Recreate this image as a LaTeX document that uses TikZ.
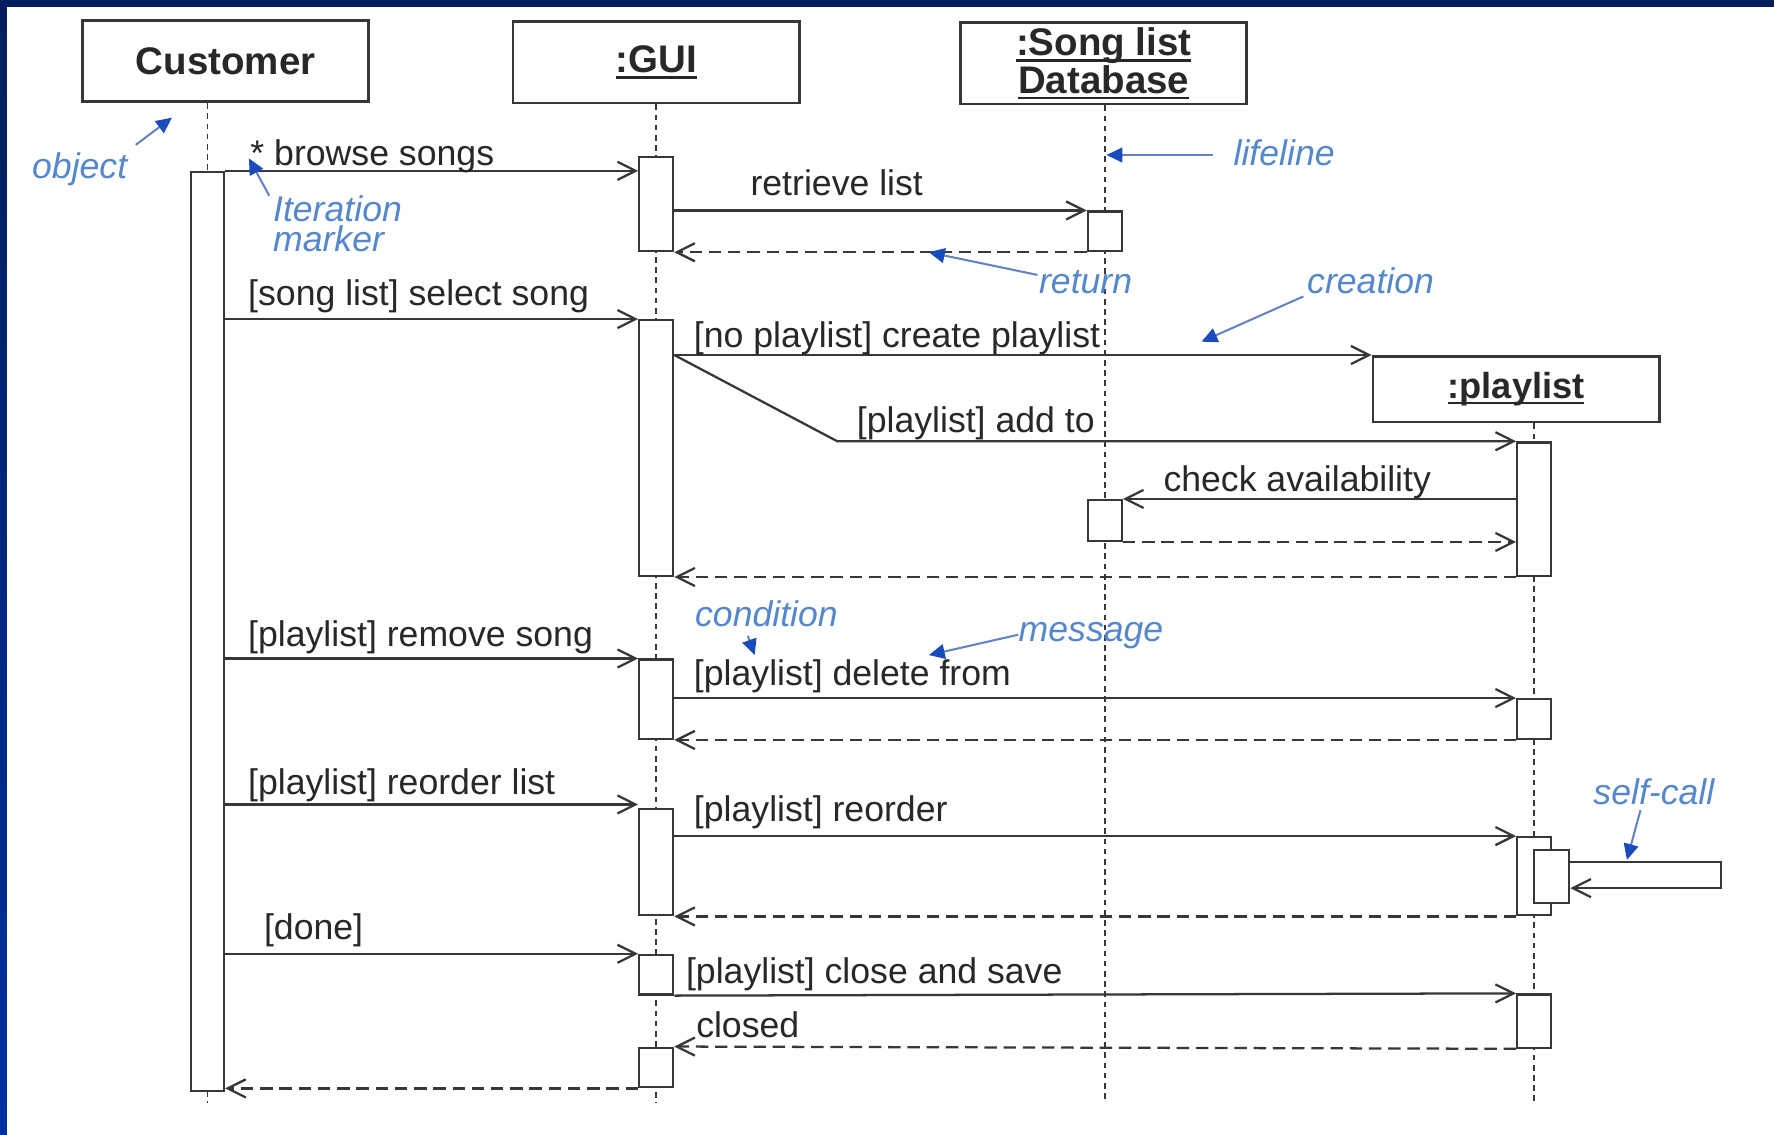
\documentclass[tikz,border=0pt]{standalone}
\usepackage{fontspec}
\setmainfont{Liberation Sans}
\newcommand\myul[1]{\setbox0\hbox{#1}\rlap{\rule[-2.6pt]{\wd0}{1pt}}\box0}
\usetikzlibrary{arrows.meta}
\definecolor{lc}{RGB}{55,55,55}
\definecolor{tc}{RGB}{40,40,40}
\definecolor{annc}{RGB}{85,135,205}
\definecolor{annline}{RGB}{100,130,195}
\definecolor{annhead}{RGB}{25,75,190}
\definecolor{navyband}{RGB}{0,30,92}
\definecolor{blueband}{RGB}{0,48,158}
\begin{document}
\begin{tikzpicture}[x=0.5pt,y=-0.5pt,
  obj/.style={draw=lc, line width=1.2pt, fill=white, minimum width=126.5pt, minimum height=36pt, inner sep=0pt, text=tc, font=\bfseries\fontsize{17}{16.5}\selectfont, align=center},
  act/.style={draw=lc, line width=1pt, fill=white, minimum width=15pt, inner sep=0pt, anchor=north},
  life/.style={draw=lc, line width=0.75pt, dash pattern=on 2.5pt off 2pt},
  msg/.style={draw=lc, line width=1pt, -{Straight Barb[length=8pt,width=8pt]}},
  ret/.style={msg, dash pattern=on 5.5pt off 3pt},
  lbl/.style={inner sep=0pt, anchor=base west, text=tc, font=\fontsize{15.75}{18}\selectfont},
  ann/.style={inner sep=0pt, anchor=base west, text=annc, font=\itshape\fontsize{15.75}{18}\selectfont},
  annarr/.style={draw=annline, line width=0.9pt, -{Triangle[length=7pt,width=6.5pt,color=annhead]}}
]
\useasboundingbox (0,0) rectangle (1568,1003);
\fill[white] (0,0) rectangle (1568,1003);
\shade[top color=navyband, bottom color=blueband] (0,0) rectangle (6,1003);
\fill[navyband] (0,0) rectangle (1568,6);

% objects
\node[obj] (cust) at (199.5,54) {Customer};
\node[obj] (gui) at (580,55) {\myul{:GUI}};
\node[obj] (db) at (975.5,56) {\myul{:Song list}\\\myul{Database}};
\node[obj, minimum height=29pt, font=\bfseries\fontsize{16}{18}\selectfont] (pl) at (1340,344) {\raisebox{-1.5pt}{\myul{:playlist}}};

% lifelines
\coordinate (cbot) at (183.5,975);
\coordinate (gbot) at (580,975);
\coordinate (dbot) at (976.5,975);
\coordinate (pbot) at (1356,975);
\draw[life] (cust.south -| cbot) -- (cbot);
\draw[life] (gui.south -| gbot) -- (gbot);
\draw[life] (db.south -| dbot) -- (dbot);
\draw[life] (pl.south -| pbot) -- (pbot);

% activations
\node[act, minimum height=406pt, minimum width=14.5pt] (cact) at (183.5,151) {};
\node[act, minimum height=41.5pt] (g1) at (580,138) {};
\node[act, minimum height=113pt] (g2) at (580,282) {};
\node[act, minimum height=35pt] (g3) at (580,582) {};
\node[act, minimum height=47pt] (g4) at (580,714) {};
\node[act, minimum height=17.5pt] (g5) at (580,843) {};
\node[act, minimum height=17.5pt] (g6) at (580,925) {};
\node[act, minimum height=17.5pt] (d1) at (976.5,186) {};
\node[act, minimum height=18pt] (d2) at (976.5,441) {};
\node[act, minimum height=59pt] (p1) at (1356,390) {};
\node[act, minimum height=17.5pt] (p2) at (1356,617) {};
\node[act, minimum height=34.5pt] (p3) at (1356,739) {};
\node[act, minimum height=23.5pt] (p4) at (1356,878) {};
\node[act, minimum height=23.5pt, minimum width=15.5pt] (pn) at (1371.5,750) {};

% messages
\draw[msg] (cact.east |- 0,151) -- (g1.west |- 0,151);
\draw[msg] (g1.east |- d1.north) -- (d1.north west);
\draw[ret] (d1.south west) -- (g1.south east);
\draw[msg] (cact.east |- g2.north) -- (g2.north west);
\coordinate (split) at (g2.east |- pl.north);
\draw[msg] (split) -- (pl.north west);
\coordinate (bend) at (740,390);
\draw[msg] (split) -- (bend |- p1.north) -- (p1.north west);
\draw[msg] (p1.west |- d2.north) -- (d2.north east);
\draw[ret] (d2.south east) -- (p1.west |- d2.south);
\draw[ret] (p1.south west) -- (g2.south east);
\draw[msg] (cact.east |- g3.north) -- (g3.north west);
\draw[msg] (g3.east |- p2.north) -- (p2.north west);
\draw[ret] (p2.south west) -- (g3.south east);
\draw[msg] (cact.east |- 0,711) -- (g4.west |- 0,711);
\draw[msg] (g4.east |- p3.north) -- (p3.north west);
\coordinate (sc1) at (1521,762);
\coordinate (sc2) at (1521,785);
\draw[msg] (pn.east |- sc1) -- (sc1) -- (sc2) -- (pn.east |- sc2);
\draw[ret] (p3.south west) -- (g4.south east);
\draw[msg] (cact.east |- g5.north) -- (g5.north west);
\draw[msg] (g5.south east) -- (p4.north west);
\draw[ret] (p4.south west) -- (g6.north east);
\draw[ret] (g6.south west) -- (cact.east |- g6.south);

% message labels
\node[lbl] (lbrowse) at (221,146) {* browse songs};
\node[lbl] (lretr) at (663,173) {retrieve list};
\node[lbl] (lsel) at (219,270) {[song list] select song};
\node[lbl] (lcreate) at (613,307) {[no playlist] create playlist};
\node[lbl] (ladd) at (757,382) {[playlist] add to};
\node[lbl] (lcheck) at (1028,434) {check availability};
\node[lbl] (lrem) at (219,571) {[playlist] remove song};
\node[lbl] (ldel) at (613,606) {[playlist] delete from};
\node[lbl] (lrol) at (219,702) {[playlist] reorder list};
\node[lbl] (lro) at (613,726) {[playlist] reorder};
\node[lbl] (ldone) at (233,830) {[done]};
\node[lbl] (lclose) at (606,869) {[playlist] close and save};
\node[lbl] (lclosed) at (615,917) {closed};

% annotation arrows
\coordinate (sobj) at (120,128);   \coordinate (tobj) at (152,104);
\coordinate (sit) at (238,173);    \coordinate (tit) at (220,140);
\coordinate (slife) at (1072,137); \coordinate (tlife) at (978,137);
\coordinate (sret) at (917,243);   \coordinate (tret) at (821,223);
\coordinate (scre) at (1152,262);  \coordinate (tcre) at (1062,302);
\coordinate (scond) at (661,562);  \coordinate (tcond) at (667,579);
\coordinate (smsg) at (900,561);   \coordinate (tmsg) at (821,579);
\coordinate (sself) at (1450,716); \coordinate (tself) at (1438,760);
\draw[annarr] (sobj) -- (tobj);
\draw[annarr] (sit) -- (tit);
\draw[annarr] (slife) -- (tlife);
\draw[annarr] (sret) -- (tret);
\draw[annarr] (scre) -- (tcre);
\draw[annarr] (scond) -- (tcond);
\draw[annarr] (smsg) -- (tmsg);
\draw[annarr] (sself) -- (tself);

% annotations
\node[ann] (aobj) at (28,158) {object};
\node[ann, anchor=north west, align=left, font=\itshape\fontsize{15.75}{13.5}\selectfont] (aiter) at (241,172.5) {Iteration\\marker};
\node[ann] (alife) at (1090,146) {lifeline};
\node[ann] (aret) at (918,259) {return};
\node[ann] (acre) at (1155,259) {creation};
\node[ann] (acond) at (614,554) {condition};
\node[ann] (amsg) at (900,567) {message};
\node[ann] (aself) at (1408,711) {self-call};
\end{tikzpicture}
\end{document}
